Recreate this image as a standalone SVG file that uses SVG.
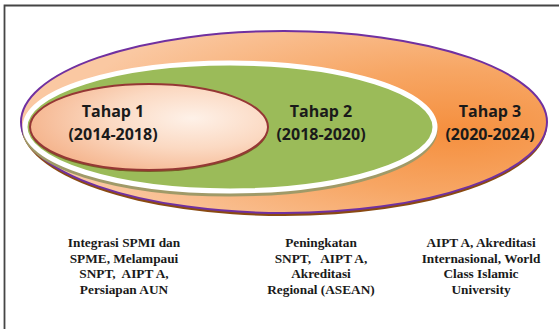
<svg xmlns="http://www.w3.org/2000/svg" width="559" height="329" viewBox="0 0 559 329">
  <style>
    .stage { font-family: "Open Sans", "Liberation Sans", sans-serif; font-weight: 700; font-size: 16px; fill: #1a1a1a; text-anchor: middle; }
    .desc { font-family: "Liberation Serif", "Times New Roman", serif; font-weight: 700; font-size: 13.3px; fill: #1a1a1a; text-anchor: middle; }
    .frame { fill: none; stroke: #454545; stroke-width: 1.8; }
  </style>
  <defs>
    <radialGradient id="g3" cx="0.82" cy="0.55" r="0.75">
      <stop offset="0" stop-color="#F58F3E"/>
      <stop offset="0.45" stop-color="#F7A664"/>
      <stop offset="1" stop-color="#FAC8A2"/>
    </radialGradient>
    <radialGradient id="g1" cx="0.68" cy="0.4" r="0.7">
      <stop offset="0" stop-color="#FEF1E8"/>
      <stop offset="0.5" stop-color="#FBD9C2"/>
      <stop offset="1" stop-color="#F5B58E"/>
    </radialGradient>
  </defs>

  <path class="frame" d="M4.5 329 V5.5 H559"/>

  <g id="tahap3">
    <ellipse cx="284" cy="125" rx="263" ry="91" fill="#8A4A12"/>
    <ellipse cx="284" cy="122" rx="263" ry="91" fill="url(#g3)" stroke="#7030A0" stroke-width="2"/>
    <text class="stage" x="490" y="117">Tahap 3</text>
    <text class="stage" x="490" y="140">(2020-2024)</text>
  </g>

  <g id="tahap2">
    <ellipse cx="230" cy="130" rx="205" ry="64" fill="none" stroke="#A09A68" stroke-width="5"/>
    <ellipse cx="230" cy="127" rx="205" ry="64" fill="#9BBB59" stroke="#FFFFFF" stroke-width="5"/>
    <text class="stage" x="321" y="117">Tahap 2</text>
    <text class="stage" x="321" y="140">(2018-2020)</text>
  </g>

  <g id="tahap1">
    <ellipse cx="149" cy="129" rx="119" ry="43" fill="#7A5A28"/>
    <ellipse cx="149" cy="127" rx="119" ry="43" fill="url(#g1)" stroke="#953735" stroke-width="2"/>
    <text class="stage" x="113" y="117">Tahap 1</text>
    <text class="stage" x="113" y="140">(2014-2018)</text>
  </g>

  <g id="desc1">
    <text class="desc" x="124" y="247">Integrasi SPMI dan</text>
    <text class="desc" x="124" y="262.5">SPME, Melampaui</text>
    <text class="desc" x="124" y="278" xml:space="preserve">SNPT,  AIPT A,</text>
    <text class="desc" x="124" y="293.5">Persiapan AUN</text>
  </g>
  <g id="desc2">
    <text class="desc" x="321" y="247">Peningkatan</text>
    <text class="desc" x="321" y="262.5" xml:space="preserve">SNPT,   AIPT A,</text>
    <text class="desc" x="321" y="278">Akreditasi</text>
    <text class="desc" x="321" y="293.5">Regional (ASEAN)</text>
  </g>
  <g id="desc3">
    <text class="desc" x="481" y="247">AIPT A, Akreditasi</text>
    <text class="desc" x="481" y="262.5">Internasional, World</text>
    <text class="desc" x="481" y="278">Class Islamic</text>
    <text class="desc" x="481" y="293.5">University</text>
  </g>
  <g id="connectors"/>
</svg>
